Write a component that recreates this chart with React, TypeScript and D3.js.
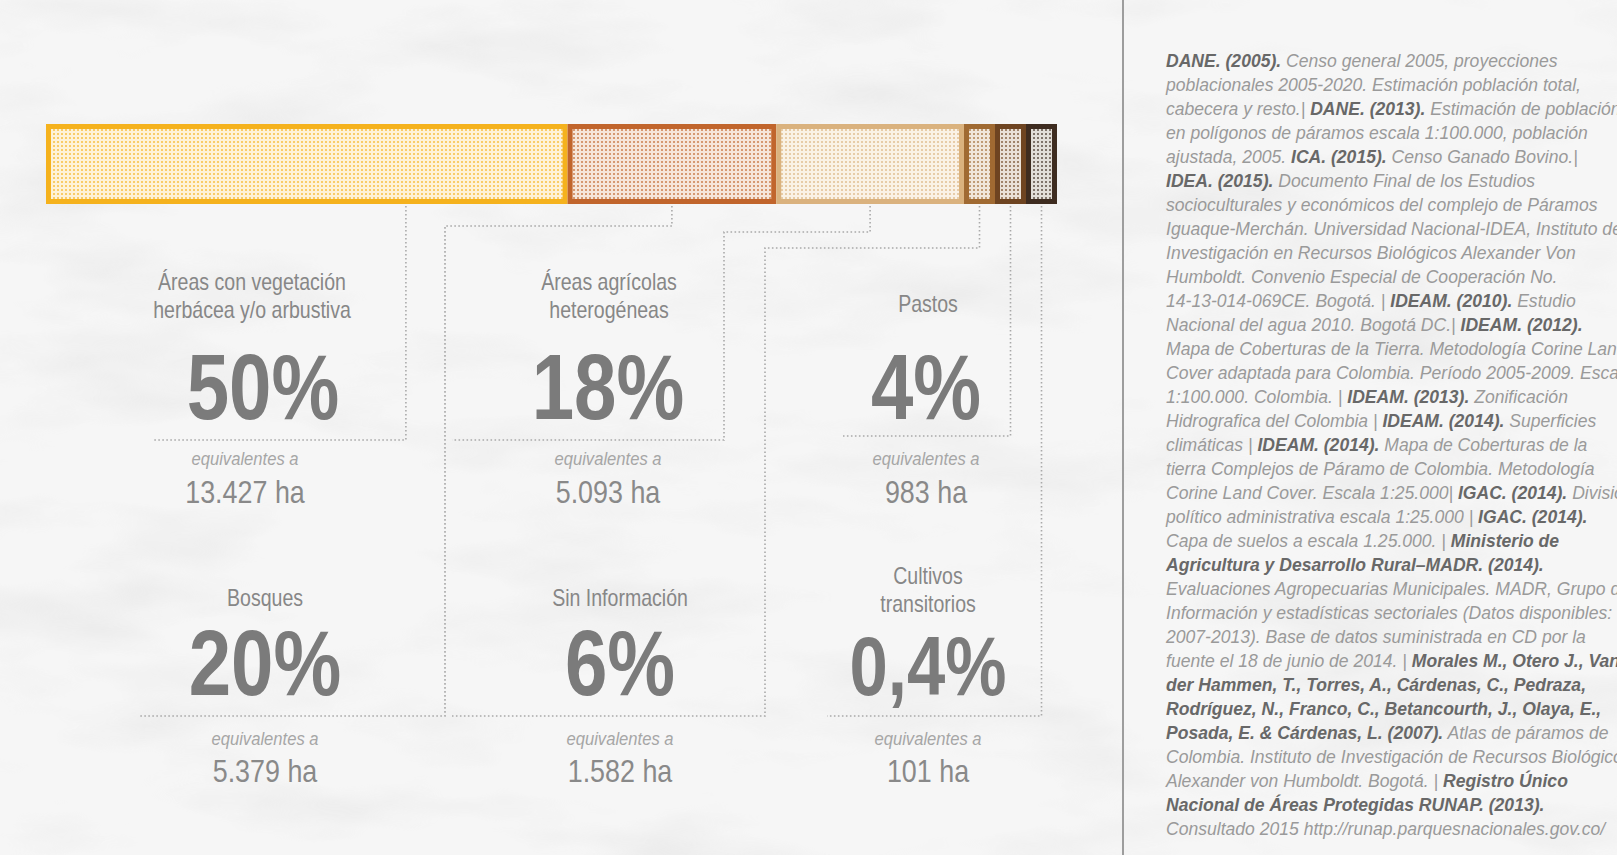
import React, { useEffect, useRef } from 'react';
import * as d3 from 'd3';

// land cover shares in the páramo complex
const categories = [
  'Áreas con vegetación herbácea y/o arbustiva',
  'Bosques',
  'Áreas agrícolas heterogéneas',
  'Sin Información',
  'Pastos',
  'Cultivos transitorios',
];
const labelLines = [
  ['Áreas con vegetación', 'herbácea y/o arbustiva'],
  ['Bosques'],
  ['Áreas agrícolas', 'heterogéneas'],
  ['Sin Información'],
  ['Pastos'],
  ['Cultivos', 'transitorios'],
];
const percentages = [50, 20, 18, 6, 4, 0.4];
const hectares = [13427, 5379, 5093, 1582, 983, 101];
const segmentColors = ['#f5b21d', '#c1652c', '#dab27e', '#a06a32', '#6e4421', '#3e2c20'];

const sources = [
  '**DANE. (2005).** Censo general 2005, proyecciones',
  'poblacionales 2005-2020. Estimación población total,',
  'cabecera y resto.| **DANE. (2013).** Estimación de población',
  'en polígonos de páramos escala 1:100.000, población',
  'ajustada, 2005.  **ICA. (2015).** Censo Ganado Bovino.|',
  '**IDEA. (2015).** Documento Final de los Estudios',
  'socioculturales y económicos del complejo de Páramos',
  'Iguaque-Merchán. Universidad Nacional-IDEA, Instituto de',
  'Investigación en Recursos Biológicos Alexander Von',
  'Humboldt. Convenio Especial de Cooperación No.',
  '14-13-014-069CE. Bogotá.  | **IDEAM. (2010).** Estudio',
  'Nacional del agua 2010. Bogotá DC.| **IDEAM. (2012).**',
  'Mapa de Coberturas de la Tierra. Metodología Corine Land',
  'Cover adaptada para Colombia. Período 2005-2009. Escala',
  '1:100.000. Colombia.  | **IDEAM. (2013).** Zonificación',
  'Hidrografica del Colombia | **IDEAM. (2014).** Superficies',
  'climáticas | **IDEAM. (2014).** Mapa de Coberturas de la',
  'tierra Complejos de Páramo de Colombia. Metodología',
  'Corine Land Cover. Escala 1:25.000| **IGAC. (2014).** División',
  'político administrativa escala 1:25.000 | **IGAC. (2014).**',
  'Capa de suelos a escala 1.25.000.  | **Ministerio de**',
  '**Agricultura y Desarrollo Rural–MADR. (2014).**',
  'Evaluaciones Agropecuarias Municipales. MADR, Grupo de',
  'Información y estadísticas sectoriales (Datos disponibles:',
  '2007-2013). Base de datos suministrada en CD por la',
  'fuente el 18 de junio de 2014. | **Morales M., Otero J., Van**',
  '**der Hammen, T., Torres, A., Cárdenas, C., Pedraza,**',
  '**Rodríguez, N., Franco, C., Betancourth, J., Olaya, E.,**',
  '**Posada, E. & Cárdenas, L. (2007).** Atlas de páramos de',
  'Colombia. Instituto de Investigación de Recursos Biológicos',
  'Alexander von Humboldt. Bogotá.  | **Registro Único**',
  '**Nacional de Áreas Protegidas RUNAP. (2013).**',
  'Consultado 2015 http://runap.parquesnacionales.gov.co/',
];

const W = 1617;
const H = 855;
const FONT = "'Liberation Sans', Arial, sans-serif";
const bar = { left: 46, right: 1057, top: 124, bottom: 204, stroke: 5, minWidth: 31, smallBelow: 10 };

// where each panel's dotted frame and texts sit
const panels = [
  { anchorT: 0.69, left: 153, bottom: 440, right: null, jogY: null, cx: 252, bigCx: 263, haCx: 245, bigSize: 93, row: 0 },
  { anchorT: 0.5, left: 140, bottom: 716, right: 445, jogY: 226, cx: 265, bigCx: 265, haCx: 265, bigSize: 93, row: 1 },
  { anchorT: 0.5, left: 452, bottom: 440, right: 724, jogY: 232, cx: 609, bigCx: 608, haCx: 608, bigSize: 93, row: 0 },
  { anchorT: 0.5, left: 452, bottom: 716, right: 765, jogY: 248, cx: 620, bigCx: 620, haCx: 620, bigSize: 93, row: 1 },
  { anchorT: 0.5, left: 843, bottom: 436, right: null, jogY: null, cx: 928, bigCx: 926, haCx: 926, bigSize: 93, row: 0 },
  { anchorT: 0.5, left: 827, bottom: 716, right: null, jogY: null, cx: 928, bigCx: 928, haCx: 928, bigSize: 84, row: 1 },
];
const rows = [
  { label: 318, single: 312, big: 419, eq: 465, ha: 503 },
  { label: 612, single: 606, big: 695, eq: 745, ha: 782 },
];

const locale = d3.formatLocale({ decimal: ',', thousands: '.', grouping: [3], currency: ['$', ''] });
const fmtHa = locale.format(',d');
const fmtPct = (v: number) => (v < 1 ? locale.format('.1f')(v) : locale.format('d')(v)) + '%';

function narrow(parent: any, x: number, y: number, sx: number, txt: string, attrs: Record<string, any>) {
  const g = parent.append('g').attr('transform', `translate(${x},${y}) scale(${sx},1)`);
  const t = g.append('text').attr('text-anchor', 'middle').attr('font-family', FONT).text(txt);
  Object.entries(attrs).forEach(([k, v]) => t.attr(k, v));
  return t;
}

export default function App() {
  const svgRef = useRef<SVGSVGElement>(null);

  useEffect(() => {
    if (!svgRef.current) return;
    const svg = d3.select(svgRef.current);
    svg.selectAll('*').remove();

    const defs = svg.append('defs');
    const paper = defs.append('filter').attr('id', 'paper').attr('x', 0).attr('y', 0).attr('width', 1).attr('height', 1);
    paper.append('feTurbulence').attr('type', 'fractalNoise').attr('baseFrequency', '0.004 0.012').attr('numOctaves', 4).attr('seed', 7);
    paper.append('feColorMatrix').attr('type', 'matrix')
      .attr('values', '0 0 0 0 0.55  0 0 0 0 0.55  0 0 0 0 0.55  1.6 0 0 0 -0.78');

    segmentColors.forEach((c, i) => {
      const p = defs.append('pattern').attr('id', `dots${i}`)
        .attr('patternUnits', 'userSpaceOnUse').attr('width', 4).attr('height', 4);
      p.append('rect').attr('width', 4).attr('height', 4).attr('fill', '#fffdf8');
      p.append('rect').attr('width', 4).attr('height', 4).attr('fill', c).attr('opacity', 0.15);
      p.append('rect').attr('x', 1).attr('y', 1).attr('width', 2).attr('height', 2).attr('fill', c).attr('opacity', 0.6);
    });

    svg.append('rect').attr('width', W).attr('height', H).attr('fill', '#f6f6f6');
    svg.append('rect').attr('width', W).attr('height', H).attr('filter', 'url(#paper)').attr('opacity', 0.35);

    // stacked bar: tiny shares get a minimum visible width
    const small = percentages.map(p => p < bar.smallBelow);
    const nSmall = small.filter(Boolean).length;
    const x = d3.scaleLinear()
      .domain([0, d3.sum(percentages.filter((_, i) => !small[i]))])
      .range([0, bar.right - bar.left - nSmall * bar.minWidth]);
    const widths = percentages.map((p, i) => (small[i] ? bar.minWidth : x(p)));
    const starts = widths.map((_, i) => bar.left + d3.sum(widths.slice(0, i)));
    const sw = bar.stroke;

    svg.append('g').selectAll('rect').data(percentages).join('rect')
      .attr('x', (_, i) => starts[i] + sw / 2)
      .attr('y', bar.top + sw / 2)
      .attr('width', (_, i) => widths[i] - sw)
      .attr('height', bar.bottom - bar.top - sw)
      .attr('fill', (_, i) => `url(#dots${i})`)
      .attr('stroke', (_, i) => segmentColors[i])
      .attr('stroke-width', sw);

    // dotted leader frames
    const anchors = panels.map((p, i) => starts[i] + widths[i] * p.anchorT);
    const leader = (i: number) => {
      const p = panels[i];
      const a = anchors[i];
      const top = bar.bottom + 2;
      if (p.right == null) return `M${a},${top}V${p.bottom}H${p.left}`;
      return `M${a},${top}V${p.jogY}H${p.right}V${p.bottom}H${p.left}`;
    };
    svg.append('g').selectAll('path').data(categories).join('path')
      .attr('d', (_, i) => leader(i))
      .attr('fill', 'none')
      .attr('stroke', '#a9a9a9')
      .attr('stroke-width', 1.6)
      .attr('stroke-dasharray', '1.6 2.4');

    // panel texts
    const txt = svg.append('g');
    categories.forEach((_, i) => {
      const p = panels[i];
      const r = rows[p.row];
      const lines = labelLines[i];
      lines.forEach((ln, k) => {
        const y = lines.length === 1 ? r.single : r.label - (lines.length - 1 - k) * 28;
        narrow(txt, p.cx, y, 0.85, ln, { 'font-size': 23, fill: '#878787' });
      });
      narrow(txt, p.bigCx, r.big, 0.82, fmtPct(percentages[i]), { 'font-size': p.bigSize, 'font-weight': 700, fill: '#7b7b7b' });
      narrow(txt, p.haCx, r.eq, 0.95, 'equivalentes a', { 'font-size': 17.5, 'font-style': 'italic', fill: '#a6a6a6' });
      narrow(txt, p.haCx, r.ha, 0.84, `${fmtHa(hectares[i])} ha`, { 'font-size': 32, fill: '#898989' });
    });

    // divider and sources column
    svg.append('line').attr('x1', 1123).attr('x2', 1123).attr('y1', 0).attr('y2', H)
      .attr('stroke', '#9d9d9d').attr('stroke-width', 2);

    const src = svg.append('g').attr('transform', 'translate(1166,67) scale(0.95,1)');
    sources.forEach((line, i) => {
      const t = src.append('text').attr('y', i * 24).attr('font-family', FONT)
        .attr('font-size', 18.5).attr('font-style', 'italic').attr('fill', '#9a9a9a');
      line.split('**').forEach((part, j) => {
        if (!part) return;
        t.append('tspan').attr('font-weight', j % 2 ? 700 : 400).attr('fill', j % 2 ? '#686868' : '#9a9a9a').text(part);
      });
    });
  }, []);

  return (
    <>
      <style>{'body{margin:0;background:#f6f6f6}'}</style>
      <svg ref={svgRef} width={W} height={H} style={{ display: 'block' }} />
    </>
  );
}
